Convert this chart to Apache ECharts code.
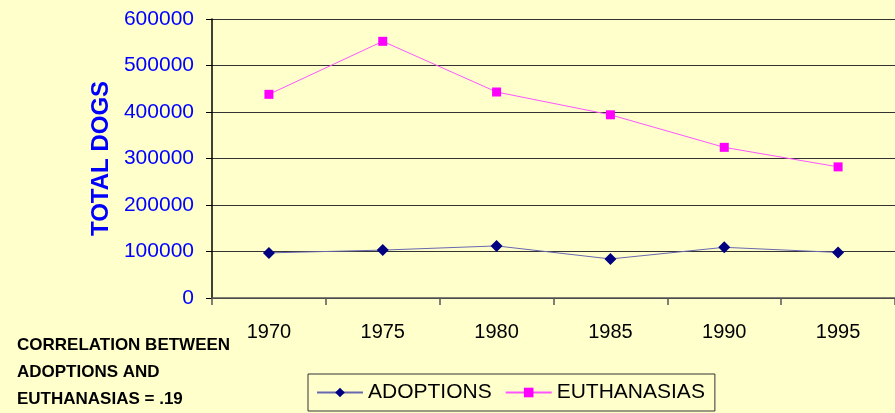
<!DOCTYPE html>
<html>
<head>
<meta charset="utf-8">
<script src="https://cdn.jsdelivr.net/npm/echarts@6.0.0/dist/echarts.min.js"></script>
<style>
  html, body { margin: 0; padding: 0; background: #FFFFCC; }
  #chart { width: 895px; height: 413px; }
</style>
</head>
<body>
<div id="chart"></div>
<script>
var years = ['1970', '1975', '1980', '1985', '1990', '1995'];
var adoptions = [97000, 103000, 112000, 84000, 109000, 98000];
var euthanasias = [438000, 552000, 443000, 394000, 324000, 282000];

var font = 'Liberation Sans, Arial, sans-serif';
var myChart = echarts.init(document.getElementById('chart'));

var option = {
  backgroundColor: '#FFFFCC',
  animation: false,
  grid: { left: 212, right: 0, top: 19, bottom: 115, containLabel: false },
  legend: {
    left: 308,
    top: 374,
    padding: [8, 10, 8, 8],
    itemWidth: 46,
    itemHeight: 12,
    itemGap: 13,
    backgroundColor: '#FFFFCC',
    borderColor: '#333',
    borderWidth: 1,
    borderRadius: 0,
    textStyle: { fontFamily: font, fontSize: 21, color: '#000' },
    data: ['ADOPTIONS', 'EUTHANASIAS']
  },
  xAxis: {
    type: 'category',
    data: years,
    axisLine: { lineStyle: { color: '#555', width: 1.5 } },
    axisTick: { show: true, length: 7, lineStyle: { color: '#555', width: 1.5 } },
    axisLabel: { color: '#000', fontFamily: font, fontSize: 20, margin: 24 }
  },
  yAxis: {
    type: 'value',
    min: 0,
    max: 600000,
    interval: 100000,
    name: 'TOTAL DOGS',
    nameLocation: 'middle',
    nameGap: 96,
    nameTextStyle: { color: '#0000FF', fontFamily: font, fontSize: 24, fontWeight: 'bold' },
    axisLine: { show: true, lineStyle: { color: '#000', width: 1.5 } },
    axisTick: { show: true, length: 6, lineStyle: { color: '#000' } },
    axisLabel: {
      color: '#0000FF', fontFamily: font, fontSize: 21, margin: 18,
      formatter: function (v) { return String(v); }
    },
    splitLine: { lineStyle: { color: '#333', width: 1.2 } }
  },
  graphic: [{
    type: 'text',
    left: 17,
    top: 332,
    style: {
      text: 'CORRELATION BETWEEN\nADOPTIONS AND\nEUTHANASIAS = .19',
      fontFamily: font,
      fontSize: 17,
      fontWeight: 'bold',
      lineHeight: 27,
      fill: '#000'
    }
  }],
  series: [
    {
      name: 'ADOPTIONS',
      type: 'line',
      data: adoptions,
      symbol: 'diamond',
      symbolSize: 12,
      itemStyle: { color: '#000080' },
      lineStyle: { color: '#6868b0', width: 1 }
    },
    {
      name: 'EUTHANASIAS',
      type: 'line',
      data: euthanasias,
      symbol: 'rect',
      symbolSize: 9,
      itemStyle: { color: '#FF00FF' },
      lineStyle: { color: '#FF55FF', width: 1 }
    }
  ]
};

myChart.setOption(option);
</script>
</body>
</html>
